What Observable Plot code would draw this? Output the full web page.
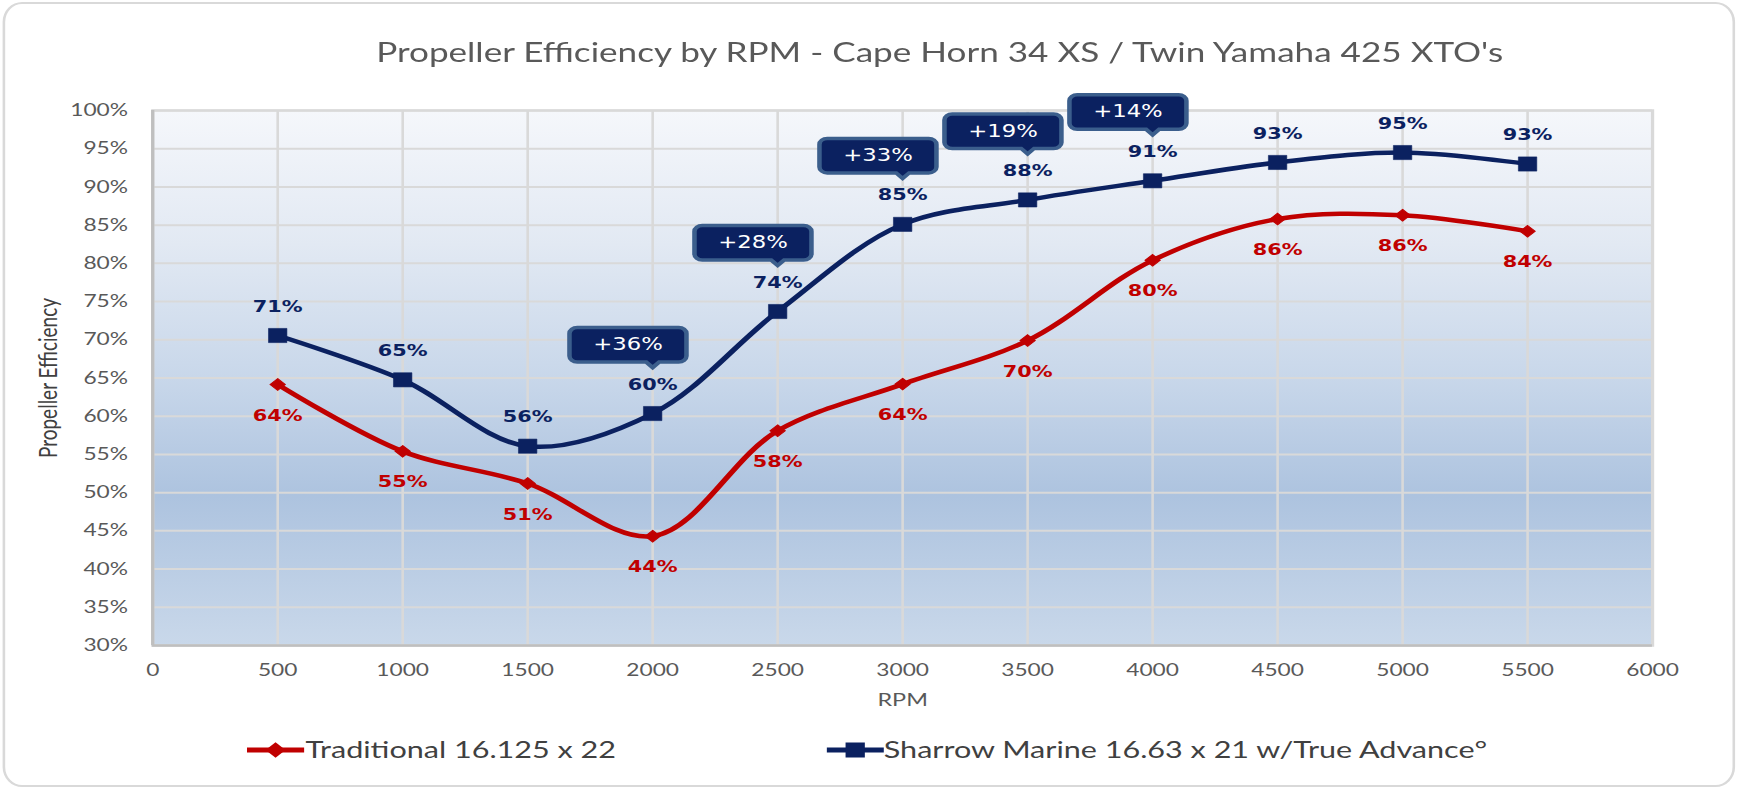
<!DOCTYPE html>
<html>
<head>
<meta charset="utf-8">
<script src="https://cdn.jsdelivr.net/npm/d3@7"></script>
<script src="https://cdn.jsdelivr.net/npm/@observablehq/plot@0.6"></script>
<style>
  html, body { margin: 0; padding: 0; background: #fff; overflow: hidden; }
  #stage { position: relative; width: 1338px; height: 789px; transform: scaleX(1.2997); transform-origin: 0 0; font-family: Lato, "Open Sans", sans-serif; }
  #border { position: absolute; left: 2px; top: 2px; width: 1333px; height: 785px; box-sizing: border-box; border: 2px solid #d9d9d9; border-radius: 15px / 20px; background: #fff; }
  #title { position: absolute; left: 0; width: 1446px; top: 36px; line-height: 32px; font-size: 27px; color: #595959; text-align: center; white-space: nowrap; }
  #chart { position: absolute; left: 0; top: 80px; }
  .leg { position: absolute; top: 735px; height: 28px; line-height: 28px; font-size: 23.5px; color: #404040; white-space: nowrap; }
  .leg svg { position: absolute; top: 0; }
  .leg span { position: absolute; top: 0; }
</style>
</head>
<body>
<div id="stage">
  <div id="border"></div>
  <div id="title"></div>
  <div id="chart"></div>
</div>
<script>
// ---- data ----
const titleText = "Propeller Efficiency by RPM - Cape Horn 34 XS / Twin Yamaha 425 XTO's";
const xLabel = "RPM";
const yLabel = "Propeller Efficiency";
const rpm = [500, 1000, 1500, 2000, 2500, 3000, 3500, 4000, 4500, 5000, 5500];
const traditional = [64.15, 55.4, 51.2, 44.3, 58.1, 64.2, 69.9, 80.4, 85.8, 86.3, 84.2];
const sharrow = [70.56, 64.76, 56.08, 60.35, 73.7, 85.1, 88.3, 90.8, 93.2, 94.5, 93.0];
const seriesNames = ["Traditional 16.125 x 22", "Sharrow Marine 16.63 x 21 w/True Advance°"];
const gainRpm = [2000, 2500, 3000, 3500, 4000];
const gainLabels = ["+36%", "+28%", "+33%", "+19%", "+14%"];
const xTicks = [0, 500, 1000, 1500, 2000, 2500, 3000, 3500, 4000, 4500, 5000, 5500, 6000];
const yTicks = [30, 35, 40, 45, 50, 55, 60, 65, 70, 75, 80, 85, 90, 95, 100];

const RED = "#c00000";
const BLUE = "#0b2160";

const tradData = rpm.map((r, i) => ({rpm: r, value: traditional[i]}));
const sharData = rpm.map((r, i) => ({rpm: r, value: sharrow[i]}));
const gainData = gainRpm.map((r, i) => ({rpm: r, value: sharrow[rpm.indexOf(r)], label: gainLabels[i]}));

document.getElementById("title").textContent = titleText;

// callout box (rounded rectangle with a pointer pointing down at the anchor)
const callout = {
  draw(ctx) {
    const l = -64, r = 26, t = -86, b = -51.5, rr = 6, pw = 5, tip = -46;
    ctx.moveTo(l + rr, t);
    ctx.lineTo(r - rr, t);
    ctx.arcTo(r, t, r, t + rr, rr);
    ctx.lineTo(r, b - rr);
    ctx.arcTo(r, b, r - rr, b, rr);
    ctx.lineTo(pw, b);
    ctx.lineTo(0, tip);
    ctx.lineTo(-pw, b);
    ctx.lineTo(l + rr, b);
    ctx.arcTo(l, b, l, b - rr, rr);
    ctx.lineTo(l, t + rr);
    ctx.arcTo(l, t, l + rr, t, rr);
    ctx.closePath();
  }
};

const defs = () => {
  const d = d3.create("svg:defs");
  const g = d.append("linearGradient").attr("id", "bgGrad")
    .attr("x1", 0).attr("y1", 0).attr("x2", 0).attr("y2", 1);
  [[0, "#f5f7fb"], [0.25, "#e2e9f3"], [0.5, "#c8d7ea"], [0.72, "#adc3df"], [1, "#c9d8ea"]]
    .forEach(([o, c]) => g.append("stop").attr("offset", o).attr("stop-color", c));
  return d.node();
};

const plot = Plot.plot({
  width: 1338,
  height: 640,
  marginLeft: 117,
  marginRight: 67,
  marginTop: 30,
  marginBottom: 75,
  style: {fontFamily: "Lato, sans-serif", fontSize: "17.5px", color: "#595959", background: "transparent", overflow: "visible"},
  x: {domain: [0, 6000]},
  y: {domain: [30, 100]},
  marks: [
    defs,
    Plot.frame({fill: "url(#bgGrad)", stroke: "#d9d9d9", strokeWidth: 2.5}),
    Plot.gridX(xTicks, {stroke: "#d9d9d9", strokeOpacity: 1, strokeWidth: 2}),
    Plot.gridY(yTicks, {stroke: "#d9d9d9", strokeOpacity: 1, strokeWidth: 2}),
    Plot.ruleX([0], {stroke: "#bfbfbf", strokeWidth: 2.5}),
    Plot.ruleY([30], {stroke: "#bfbfbf", strokeWidth: 2.5}),
    Plot.axisX({ticks: xTicks, tickSize: 0, tickPadding: 18, label: null, tickFormat: d => String(d)}),
    Plot.axisY({ticks: yTicks, tickSize: 0, tickPadding: 19, label: null, tickFormat: d => d + "%"}),
    Plot.text([xLabel], {frameAnchor: "bottom", dy: 60, fontSize: 18, fill: "#595959"}),
    Plot.text([yLabel], {frameAnchor: "left", textAnchor: "middle", dx: -80, rotate: -90, fontSize: 19, fill: "#404040"}),
    Plot.line(tradData, {x: "rpm", y: "value", stroke: RED, strokeWidth: 4.5, curve: "catmull-rom"}),
    Plot.line(sharData, {x: "rpm", y: "value", stroke: BLUE, strokeWidth: 4.5, curve: "catmull-rom"}),
    Plot.dot(tradData, {x: "rpm", y: "value", symbol: "diamond2", r: 5.2, fill: RED, stroke: RED, strokeWidth: 1}),
    Plot.dot(sharData, {x: "rpm", y: "value", symbol: "square", r: 8, fill: BLUE, stroke: BLUE, strokeWidth: 0.5}),
    Plot.text(tradData, {x: "rpm", y: "value", text: d => Math.round(d.value) + "%", dy: 31, fill: RED, fontWeight: "bold", fontFamily: "DejaVu Sans", fontSize: 16}),
    Plot.text(sharData, {x: "rpm", y: "value", text: d => Math.round(d.value) + "%", dy: -29, fill: BLUE, fontWeight: "bold", fontFamily: "DejaVu Sans", fontSize: 16}),
    Plot.dot(gainData, {x: "rpm", y: "value", symbol: callout, r: 10, fill: "#0b2160", stroke: "#3b5e8c", strokeWidth: 3.5}),
    Plot.text(gainData, {x: "rpm", y: "value", text: "label", dx: -19, dy: -69, fill: "white", fontFamily: "DejaVu Sans", fontSize: 17.5})
  ]
});
document.getElementById("chart").appendChild(plot);

// ---- legend ----
const stage = d3.select("#stage");
const legItems = [
  {name: seriesNames[0], color: RED, symbol: d3.symbolDiamond2, size: 150, lineX: 190, textX: 235},
  {name: seriesNames[1], color: BLUE, symbol: d3.symbolSquare, size: 220, lineX: 636, textX: 680}
];
legItems.forEach(it => {
  const g = stage.append("div").attr("class", "leg").style("left", it.lineX + "px");
  const s = g.append("svg").attr("width", 46).attr("height", 28).style("left", "0px");
  s.append("line").attr("x1", 0).attr("x2", 44).attr("y1", 15).attr("y2", 15)
    .attr("stroke", it.color).attr("stroke-width", 5);
  s.append("path").attr("d", d3.symbol(it.symbol, it.size)()).attr("transform", "translate(22,15)").attr("fill", it.color);
  g.append("span").style("left", (it.textX - it.lineX) + "px").text(it.name);
});
</script>
</body>
</html>
